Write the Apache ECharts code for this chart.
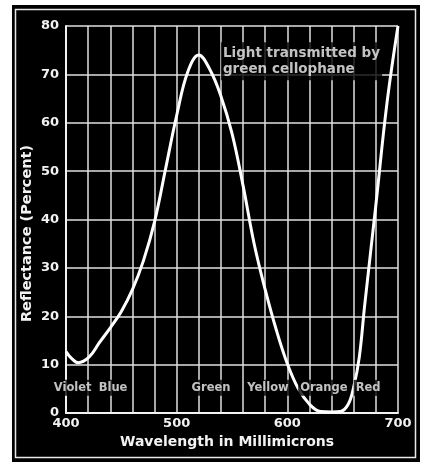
<!DOCTYPE html>
<html><head><meta charset="utf-8">
<script src="https://cdn.jsdelivr.net/npm/echarts@6/dist/echarts.min.js"></script>
<style>html,body{margin:0;padding:0;background:#fff}#c{width:421px;height:463px}</style>
</head><body><div id="c"></div>
<script>
// Wavelength (millimicrons) and reflectance (percent)
const wavelength = [400,405,411,421,430,440,450,460,470,480,490,500,510,520,530,540,550,560,570,580,590,600,610,620,630,640,648,655,660,665,670,680,690,700];
const reflectance = [12.7,11.3,10.4,11.6,14.5,17.6,21,25.5,31.5,39.5,50.5,61.5,70.5,74,71,65.5,57.8,47,35,25.5,17.2,10.2,5,1.8,0.3,0.2,0.3,1.8,5.4,11.5,22.5,43,64,80];
const colorNames = ['Violet','Blue','Green','Yellow','Orange','Red'];
const colorPos = [406,442.5,531,582.5,633,673];
const xTicks = [400,500,600,700];
const note = 'Light transmitted by\ngreen cellophane';
const notePos = [540,72.7];

const W = '#f2f2f2';
const FONT = 'DejaVu Sans';
const chart = echarts.init(document.getElementById('c'), null, {renderer:'canvas'});
chart.setOption({
  backgroundColor:'#ffffff',
  animation:false,
  graphic:[
    {type:'rect', z:-10, shape:{x:12,y:5,width:408,height:457}, style:{fill:'#000'}},
    {type:'rect', z:-9, shape:{x:15.5,y:9.5,width:400,height:448}, style:{fill:'none', stroke:'#e8e8e8', lineWidth:1.5}}
  ],
  grid:{left:66,right:23,top:26,bottom:50},
  xAxis:{type:'value',min:400,max:700,interval:20,
    name:'Wavelength in Millimicrons',nameLocation:'middle',nameGap:22,nameMoveOverlap:false,
    nameTextStyle:{color:W,fontFamily:FONT,fontWeight:'bold',fontSize:14,padding:[0,10,0,0]},
    axisLine:{show:true,lineStyle:{color:W,width:2}},
    axisTick:{show:false},
    axisLabel:{color:W,fontFamily:FONT,fontWeight:'bold',fontSize:13,margin:4,
      formatter:v=>xTicks.includes(v)?String(v):''},
    splitLine:{show:true,lineStyle:{color:'#e0e0e0',width:1.5}}
  },
  yAxis:{type:'value',min:0,max:80,interval:10,
    name:'Reflectance (Percent)',nameLocation:'middle',nameGap:31,nameMoveOverlap:false,
    nameTextStyle:{color:W,fontFamily:FONT,fontWeight:'bold',fontSize:14.5,padding:[0,28,0,0]},
    axisLine:{show:true,lineStyle:{color:W,width:2}},
    axisTick:{show:false},
    axisLabel:{color:W,fontFamily:FONT,fontWeight:'bold',fontSize:13,margin:7},
    splitLine:{show:true,lineStyle:{color:'#e0e0e0',width:1.5}}
  },
  series:[
    {type:'line',smooth:0.4,symbol:'none',z:5,
      lineStyle:{color:'#fff',width:3},
      data:wavelength.map((w,i)=>[w,reflectance[i]])},
    {type:'scatter',symbolSize:0,z:6,silent:true,
      label:{show:true,position:'inside',formatter:p=>p.data.name,color:W,fontFamily:FONT,fontWeight:'bold',fontSize:11.5,
        backgroundColor:'#000',padding:[2,2]},
      data:colorNames.map((n,i)=>({name:n,value:[colorPos[i],5.2]}))},
    {type:'scatter',symbolSize:0,z:6,silent:true,
      label:{show:true,position:'right',distance:0,formatter:note,color:W,fontFamily:FONT,fontWeight:'bold',fontSize:13.5,
        lineHeight:16,backgroundColor:'#000',padding:[3,2]},
      data:[notePos]}
  ]
});
</script></body></html>
